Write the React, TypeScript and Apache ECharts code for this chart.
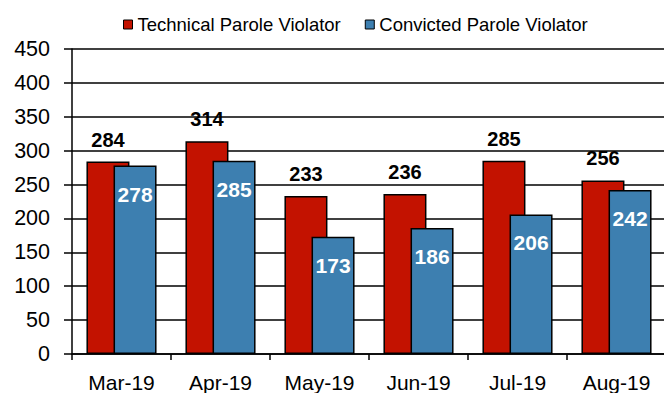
import React, { useEffect, useRef } from "react";
import * as echarts from "echarts";

const categories = ["Mar-19", "Apr-19", "May-19", "Jun-19", "Jul-19", "Aug-19"];
const technical = [284, 314, 233, 236, 285, 256];
const convicted = [278, 285, 173, 186, 206, 242];
const seriesNames = ["Technical Parole Violator", "Convicted Parole Violator"];

const FONT = "'Liberation Sans', Arial, sans-serif";

export default function App() {
  const ref = useRef<HTMLDivElement>(null);
  useEffect(() => {
    if (!ref.current) return;
    const chart = echarts.init(ref.current, null, { renderer: "svg" });
    chart.setOption({
      animation: false,
      backgroundColor: "#ffffff",
      textStyle: { fontFamily: FONT },
      legend: {
        top: 10,
        left: 118,
        itemWidth: 9,
        itemHeight: 9,
        itemGap: 24,
        icon: "rect",
        itemStyle: { borderColor: "#000", borderWidth: 1 },
        textStyle: { fontSize: 18.5, color: "#000", fontFamily: FONT },
        data: seriesNames,
      },
      grid: { left: 72, right: 6, top: 49, bottom: 47, containLabel: false },
      xAxis: {
        type: "category",
        data: categories,
        axisLine: { lineStyle: { color: "#000", width: 1.5 } },
        axisTick: { show: true, length: 6, lineStyle: { color: "#000", width: 1.5 } },
        axisLabel: { fontSize: 21, color: "#000", margin: 18, interval: 0, fontFamily: FONT },
      },
      yAxis: {
        type: "value",
        min: 0,
        max: 450,
        interval: 50,
        axisLine: { show: true, lineStyle: { color: "#000", width: 1.5 } },
        axisTick: { show: true, length: 8, lineStyle: { color: "#000", width: 1.5 } },
        axisLabel: { fontSize: 21.5, color: "#000", margin: 22, fontFamily: FONT },
        splitLine: { show: true, lineStyle: { color: "#000", width: 1.5 } },
      },
      series: [
        {
          name: seriesNames[0],
          type: "bar",
          data: technical,
          barWidth: 43,
          barGap: "-37%",
          itemStyle: { color: "#C31200", borderColor: "#000", borderWidth: 1.5 },
          label: {
            show: true,
            position: "top",
            distance: 12,
            color: "#000",
            fontSize: 20,
            fontWeight: "bold",
            fontFamily: FONT,
          },
        },
        {
          name: seriesNames[1],
          type: "bar",
          data: convicted,
          barWidth: 43,
          itemStyle: { color: "#3D7FB0", borderColor: "#000", borderWidth: 1.5 },
          label: {
            show: true,
            position: "insideTop",
            distance: 18,
            color: "#fff",
            fontSize: 21,
            fontWeight: "bold",
            fontFamily: FONT,
          },
        },
      ],
    });
    return () => chart.dispose();
  }, []);
  return <div ref={ref} style={{ width: 672, height: 401, margin: -8 }} />;
}
